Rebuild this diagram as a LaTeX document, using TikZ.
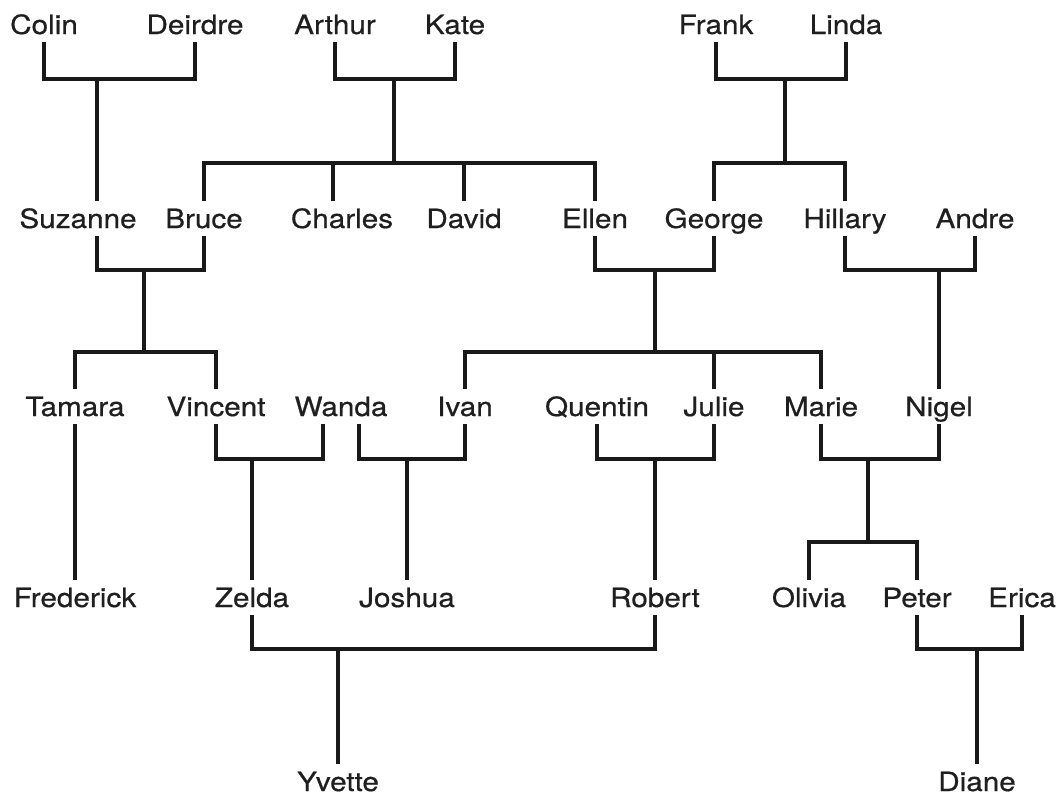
\documentclass[tikz,border=0pt]{standalone}
\usepackage{fontspec}
\setmainfont{TeX Gyre Heros}[FakeStretch=1.12, FakeBold=0.6]
\usetikzlibrary{calc}
\begin{document}
\begin{tikzpicture}[x=1pt, y=-1pt,
	person/.style={anchor=base, inner sep=0pt, outer ysep=8pt, text height=19pt, text depth=0pt, text=black!88, font=\fontsize{26.5}{28}\selectfont},
	tie/.style={draw=black!90, line width=3.5pt}]
	\useasboundingbox (0,0) rectangle (1062,796);
	
	% Generation 1
	\node[person] (colin) at (44,34) {Colin};
	\node[person] (deirdre) at (195,34) {Deirdre};
	\node[person] (arthur) at (335,34) {Arthur};
	\node[person] (kate) at (455,34) {Kate};
	\node[person] (frank) at (716,34) {Frank};
	\node[person] (linda) at (846,34) {Linda};
	
	% Generation 2
	\node[person] (suzanne) at (78,228) {Suzanne};
	\node[person] (bruce) at (204,228) {Bruce};
	\node[person] (charles) at (342,228) {Charles};
	\node[person] (david) at (464,228) {David};
	\node[person] (ellen) at (595,228) {Ellen};
	\node[person] (george) at (714,228) {George};
	\node[person] (hillary) at (845,228) {Hillary};
	\node[person] (andre) at (975,228) {Andre};
	
	% Generation 3
	\node[person] (tamara) at (75,416) {Tamara};
	\node[person] (vincent) at (216,416) {Vincent};
	\node[person] (wanda) at (341,416) {Wanda};
	\node[person] (ivan) at (465,416) {Ivan};
	\node[person] (quentin) at (597,416) {Quentin};
	\node[person] (julie) at (714,416) {Julie};
	\node[person] (marie) at (821,416) {Marie};
	\node[person] (nigel) at (939,416) {Nigel};
	
	% Generation 4
	\node[person] (frederick) at (75,607) {Frederick};
	\node[person] (zelda) at (252,607) {Zelda};
	\node[person] (joshua) at (407,607) {Joshua};
	\node[person] (robert) at (655,607) {Robert};
	\node[person] (olivia) at (809,607) {Olivia};
	\node[person] (peter) at (917,607) {Peter};
	\node[person] (erica) at (1022,607) {Erica};
	
	% Generation 5
	\node[person] (yvette) at (338,791) {Yvette};
	\node[person] (diane) at (977,791) {Diane};
	
	% Colin & Deirdre
	\coordinate (cd) at (97,79);
	\draw[tie] (colin.south) |- (cd) -| (deirdre.south);
	\draw[tie] (cd) -- (suzanne.north -| cd);
	
	% Arthur & Kate
	\coordinate (ak) at (394,79);
	\coordinate (akc) at (394,163);
	\draw[tie] (arthur.south) |- (ak) -| (kate.south);
	\draw[tie] (ak) -- (akc);
	\draw[tie] (bruce.north) |- (akc) -| (ellen.north);
	\draw[tie] ($(charles.north)+(-9,0)$) |- (akc);
	\draw[tie] (david.north) |- (akc);
	
	% Frank & Linda
	\coordinate (fl) at (785,79);
	\coordinate (flc) at (785,163);
	\draw[tie] (frank.south) |- (fl) -| (linda.south);
	\draw[tie] (fl) -- (flc);
	\draw[tie] (george.north) |- (flc) -| (hillary.north);
	
	% Suzanne & Bruce
	\coordinate (sb) at (144,270);
	\coordinate (sbc) at (144,352);
	\draw[tie] ($(suzanne.south)+(19,0)$) |- (sb) -| (bruce.south);
	\draw[tie] (sb) -- (sbc);
	\draw[tie] (tamara.north) |- (sbc) -| (vincent.north);
	
	% Ellen & George
	\coordinate (eg) at (655,270);
	\coordinate (egc) at (655,352);
	\draw[tie] (ellen.south) |- (eg) -| (george.south);
	\draw[tie] (eg) -- (egc);
	\draw[tie] (ivan.north) |- (egc) -| (marie.north);
	\draw[tie] (julie.north) |- (egc);
	
	% Hillary & Andre
	\coordinate (ha) at (939,270);
	\draw[tie] (hillary.south) |- (ha) -| (andre.south);
	\draw[tie] (ha) -- (nigel.north -| ha);
	
	% Tamara
	\draw[tie] (tamara.south) -- (frederick.north);
	
	% Vincent & Wanda
	\coordinate (vw) at (252,459);
	\draw[tie] (vincent.south) |- (vw) -| ($(wanda.south)+(-18,0)$);
	\draw[tie] (vw) -- (zelda.north -| vw);
	
	% Wanda & Ivan
	\coordinate (wi) at (407,459);
	\draw[tie] ($(wanda.south)+(18,0)$) |- (wi) -| (ivan.south);
	\draw[tie] (wi) -- (joshua.north -| wi);
	
	% Quentin & Julie
	\coordinate (qj) at (655,459);
	\draw[tie] (quentin.south) |- (qj) -| (julie.south);
	\draw[tie] (qj) -- (robert.north -| qj);
	
	% Marie & Nigel
	\coordinate (mn) at (868,459);
	\coordinate (mnc) at (868,542);
	\draw[tie] (marie.south) |- (mn) -| (nigel.south);
	\draw[tie] (mn) -- (mnc);
	\draw[tie] (olivia.north) |- (mnc) -| (peter.north);
	
	% Zelda & Robert
	\coordinate (zr) at (338,649);
	\draw[tie] (zelda.south) |- (zr) -| (robert.south);
	\draw[tie] (zr) -- (yvette.north -| zr);
	
	% Peter & Erica
	\coordinate (pe) at (977,649);
	\draw[tie] (peter.south) |- (pe) -| (erica.south);
	\draw[tie] (pe) -- (diane.north -| pe);
\end{tikzpicture}
\end{document}
